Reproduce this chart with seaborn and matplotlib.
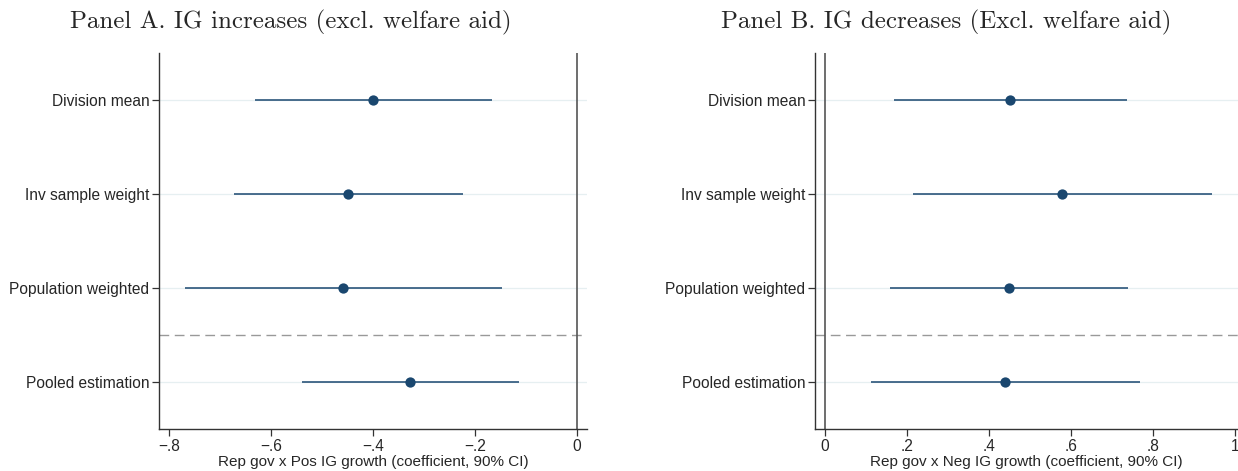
import matplotlib
matplotlib.use("Agg")
import matplotlib.pyplot as plt
import seaborn as sns
import pandas as pd

sns.set_theme(style="white")
plt.rcParams["font.family"] = ["Liberation Sans", "DejaVu Sans"]

# Specifications (rows, top to bottom)
specs = ["Division mean", "Inv sample weight", "Population weighted", "Pooled estimation"]

# Panel A: IG increases
coef_a = [-0.400, -0.449, -0.459, -0.327]
lo_a = [-0.631, -0.673, -0.769, -0.539]
hi_a = [-0.167, -0.224, -0.147, -0.114]

# Panel B: IG decreases
coef_b = [0.451, 0.578, 0.449, 0.439]
lo_b = [0.169, 0.215, 0.159, 0.112]
hi_b = [0.736, 0.944, 0.739, 0.768]

xticks_a = [-0.8, -0.6, -0.4, -0.2, 0.0]
xticklabels_a = ["\u2212.8", "\u2212.6", "\u2212.4", "\u2212.2", "0"]
xticks_b = [0.0, 0.2, 0.4, 0.6, 0.8, 1.0]
xticklabels_b = ["0", ".2", ".4", ".6", ".8", "1"]

title_a = "Panel A. IG increases (excl. welfare aid)"
title_b = "Panel B. IG decreases (Excl. welfare aid)"
xlabel_a = "Rep gov x Pos IG growth (coefficient, 90% CI)"
xlabel_b = "Rep gov x Neg IG growth (coefficient, 90% CI)"

NAVY = "#1a476f"
GRID = "#e6eff1"
AXC = "#333333"

W, H = 1238, 471
fig = plt.figure(figsize=(W / 100, H / 100), dpi=100)
ax_a = fig.add_axes([159 / W, 42 / H, 428 / W, 376 / H])
ax_b = fig.add_axes([815 / W, 42 / H, 423 / W, 376 / H])


def draw_panel(ax, coef, lo, hi, xlim, ticks, ticklabels, xlabel):
    df = pd.DataFrame({"spec": specs, "coef": coef, "lo": lo, "hi": hi})
    # light horizontal guides at each specification
    for i, _ in enumerate(specs):
        ax.axhline(i, color=GRID, lw=0.9, zorder=0)
    ax.axhline(2.5, color="#999999", lw=1.0, ls=(0, (7, 4)), zorder=1)
    ax.axvline(0, color="#555555", lw=1.2, zorder=1)
    ax.hlines(y=df["spec"], xmin=df["lo"], xmax=df["hi"], color=NAVY, lw=1.1, zorder=2)
    sns.scatterplot(data=df, x="coef", y="spec", ax=ax, color=NAVY, s=55,
                    edgecolor=NAVY, linewidth=0, zorder=3, legend=False)
    ax.set_ylim(3.5, -0.5)
    ax.set_xlim(*xlim)
    ax.set_xticks(ticks)
    ax.set_xticklabels(ticklabels, fontsize=11.2)
    ax.set_ylabel("")
    ax.set_xlabel(xlabel, fontsize=11, labelpad=1)
    ax.tick_params(axis="y", labelsize=11.2, length=5, width=0.9, color=AXC, pad=2, left=True)
    ax.tick_params(axis="x", length=5, width=0.9, color=AXC, pad=2, bottom=True)
    for side in ["top", "right"]:
        ax.spines[side].set_visible(False)
    for side in ["left", "bottom"]:
        ax.spines[side].set_color(AXC)
        ax.spines[side].set_linewidth(1.0)
    ax.grid(False)


draw_panel(ax_a, coef_a, lo_a, hi_a, (-0.8196, 0.0196), xticks_a, xticklabels_a, xlabel_a)
draw_panel(ax_b, coef_b, lo_b, hi_b, (-0.0244, 1.007), xticks_b, xticklabels_b, xlabel_b)

fig.text(291 / W, 1 - 28 / H, title_a, ha="center", va="baseline",
         fontsize=18, family="cmr10")
fig.text(946 / W, 1 - 28 / H, title_b, ha="center", va="baseline",
         fontsize=18, family="cmr10")

fig.savefig("out.png", dpi=100, facecolor="white")
